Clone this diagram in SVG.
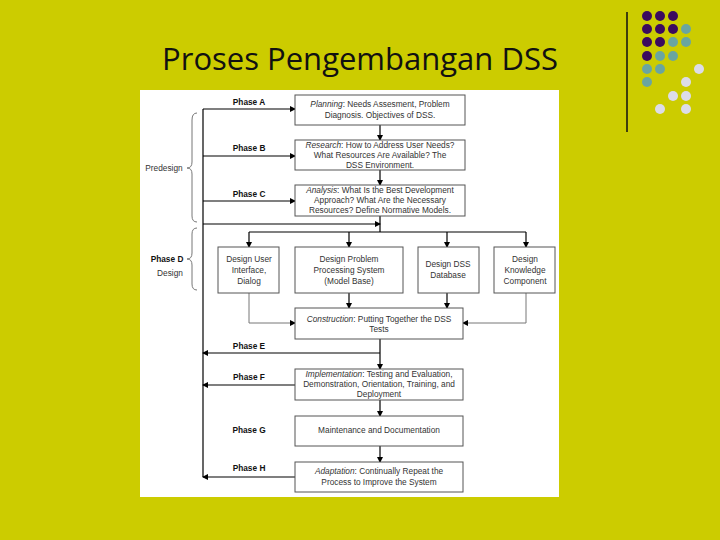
<svg xmlns="http://www.w3.org/2000/svg" width="720" height="540" viewBox="0 0 720 540">
<defs>
<marker id="ah" markerWidth="6" markerHeight="6" refX="5" refY="3" orient="auto" markerUnits="userSpaceOnUse"><path d="M0,0 L6,3 L0,6 z" fill="#000"/></marker>
<style>
.b{fill:#fff;stroke:#555;stroke-width:1}
.t{font-family:"Liberation Sans",Arial,sans-serif;font-size:8.3px;fill:#333;text-anchor:middle}
.p{font-family:"Liberation Sans",Arial,sans-serif;font-size:8.3px;font-weight:bold;fill:#111;text-anchor:middle}
.l{stroke:#000;stroke-width:1.2;fill:none}
.g{stroke:#777;stroke-width:1;fill:none}
.pu{fill:#3b0a5e}.te{fill:#6aa5a0}.wh{fill:#dcdce8}
</style>
</defs>
<rect width="720" height="540" fill="#cccc00"/>
<text x="360" y="70" font-family="'Open Sans',sans-serif" font-size="31" text-anchor="middle" fill="#111">Proses Pengembangan DSS</text>
<line x1="627" y1="12" x2="627" y2="132" stroke="#111" stroke-width="1.5"/>
<g id="dots">
<circle class="pu" cx="647" cy="16" r="5"/><circle class="pu" cx="660" cy="16" r="5"/><circle class="pu" cx="673" cy="16" r="5"/>
<circle class="pu" cx="647" cy="29" r="5"/><circle class="pu" cx="660" cy="29" r="5"/><circle class="pu" cx="673" cy="29" r="5"/><circle class="te" cx="686" cy="29" r="5"/>
<circle class="pu" cx="647" cy="42" r="5"/><circle class="pu" cx="660" cy="42" r="5"/><circle class="te" cx="673" cy="42" r="5"/><circle class="te" cx="686" cy="42" r="5"/>
<circle class="pu" cx="647" cy="56" r="5"/><circle class="te" cx="660" cy="56" r="5"/><circle class="te" cx="673" cy="56" r="5"/>
<circle class="te" cx="647" cy="69" r="5"/><circle class="te" cx="660" cy="69" r="5"/><circle class="wh" cx="699" cy="69" r="5"/>
<circle class="te" cx="647" cy="82" r="5"/><circle class="wh" cx="686" cy="82" r="5"/>
<circle class="wh" cx="673" cy="96" r="5"/><circle class="wh" cx="686" cy="96" r="5"/>
<circle class="wh" cx="660" cy="109" r="5"/><circle class="wh" cx="686" cy="109" r="5"/>
</g>
<rect x="140" y="90" width="419" height="407" fill="#fff"/>
<g id="connectors">
<path class="l" d="M203,109 V477"/>
<path class="l" d="M203,109 H295" marker-end="url(#ah)"/>
<path class="l" d="M203,156 H295" marker-end="url(#ah)"/>
<path class="l" d="M203,201 H295" marker-end="url(#ah)"/>
<path class="l" d="M203,224 H380" marker-end="url(#ah)"/>
<path class="l" d="M380,125 V140" marker-end="url(#ah)"/>
<path class="l" d="M380,170 V185" marker-end="url(#ah)"/>
<path class="l" d="M380,216 V232 M249,232 H526"/>
<path class="l" d="M249,232 V247" marker-end="url(#ah)"/>
<path class="l" d="M349,232 V247" marker-end="url(#ah)"/>
<path class="l" d="M447,232 V247" marker-end="url(#ah)"/>
<path class="l" d="M526,232 V247" marker-end="url(#ah)"/>
<path class="g" d="M249,293 V323 H295" marker-end="url(#ah)"/>
<path class="l" d="M349,293 V308" marker-end="url(#ah)"/>
<path class="l" d="M447,293 V308" marker-end="url(#ah)"/>
<path class="g" d="M526,293 V323 H463" marker-end="url(#ah)"/>
<path class="l" d="M380,339 V369" marker-end="url(#ah)"/>
<path class="l" d="M380,353 H203" marker-end="url(#ah)"/>
<path class="l" d="M295,385 H203" marker-end="url(#ah)"/>
<path class="l" d="M380,400 V416" marker-end="url(#ah)"/>
<path class="l" d="M380,446 V462" marker-end="url(#ah)"/>
<path class="l" d="M295,477 H203" marker-end="url(#ah)"/>
<path class="g" d="M197,113 Q192,113 192,120 V162 Q192,168 187,168 Q192,168 192,174 V216 Q192,222 197,222"/>
<path class="g" d="M197,228 Q192,228 192,234 V253 Q192,259 187,259 Q192,259 192,265 V284 Q192,290 197,290"/>
</g>
<g id="labels">
<text class="p" x="249" y="105">Phase A</text>
<text class="p" x="249" y="151">Phase B</text>
<text class="p" x="249" y="197">Phase C</text>
<text class="p" x="167" y="262">Phase D</text>
<text class="t" x="170" y="276">Design</text>
<text class="t" x="164" y="171">Predesign</text>
<text class="p" x="249" y="349">Phase E</text>
<text class="p" x="249" y="380">Phase F</text>
<text class="p" x="249" y="433">Phase G</text>
<text class="p" x="249" y="471">Phase H</text>
</g>
<g id="planning"><rect class="b" x="295" y="95" width="170" height="30"/><text class="t" x="380" y="107"><tspan font-style="italic">Planning</tspan>: Needs Assesment, Problem</text><text class="t" x="380" y="118">Diagnosis. Objectives of DSS.</text></g>
<g id="research"><rect class="b" x="295" y="140" width="170" height="30"/><text class="t" x="380" y="148"><tspan font-style="italic">Research</tspan>: How to Address User Needs?</text><text class="t" x="380" y="158">What Resources Are Available? The</text><text class="t" x="380" y="168">DSS Environment.</text></g>
<g id="analysis"><rect class="b" x="295" y="185" width="170" height="31"/><text class="t" x="380" y="193"><tspan font-style="italic">Analysis</tspan>: What Is the Best Development</text><text class="t" x="380" y="203">Approach? What Are the Necessary</text><text class="t" x="380" y="213">Resources? Define Normative Models.</text></g>
<g id="ui"><rect class="b" x="218" y="247" width="61" height="46"/><text class="t" x="249" y="262">Design User</text><text class="t" x="249" y="273">Interface,</text><text class="t" x="249" y="284">Dialog</text></g>
<g id="pps"><rect class="b" x="295" y="247" width="108" height="46"/><text class="t" x="349" y="262">Design Problem</text><text class="t" x="349" y="273">Processing System</text><text class="t" x="349" y="284">(Model Base)</text></g>
<g id="db"><rect class="b" x="418" y="247" width="61" height="46"/><text class="t" x="448" y="267">Design DSS</text><text class="t" x="448" y="278">Database</text></g>
<g id="kc"><rect class="b" x="494" y="247" width="61" height="46"/><text class="t" x="525" y="262">Design</text><text class="t" x="525" y="273">Knowledge</text><text class="t" x="525" y="284">Component</text></g>
<g id="construction"><rect class="b" x="295" y="308" width="168" height="31"/><text class="t" x="379" y="322"><tspan font-style="italic">Construction</tspan>: Putting Together the DSS</text><text class="t" x="379" y="332">Tests</text></g>
<g id="implementation"><rect class="b" x="295" y="369" width="168" height="31"/><text class="t" x="379" y="377"><tspan font-style="italic">Implementation</tspan>: Testing and Evaluation,</text><text class="t" x="379" y="387">Demonstration, Orientation, Training, and</text><text class="t" x="379" y="397">Deployment</text></g>
<g id="maintenance"><rect class="b" x="295" y="416" width="168" height="30"/><text class="t" x="379" y="433">Maintenance and Documentation</text></g>
<g id="adaptation"><rect class="b" x="295" y="462" width="168" height="30"/><text class="t" x="379" y="474"><tspan font-style="italic">Adaptation</tspan>: Continually Repeat the</text><text class="t" x="379" y="485">Process to Improve the System</text></g>
</svg>
